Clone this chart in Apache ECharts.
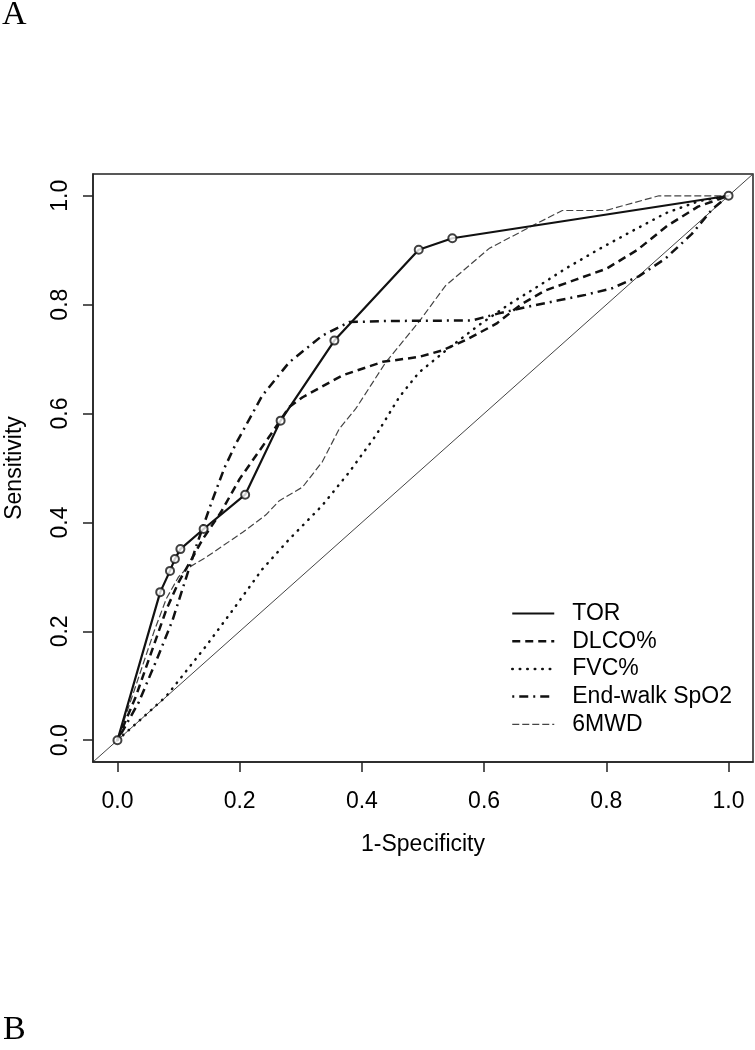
<!DOCTYPE html>
<html>
<head>
<meta charset="utf-8">
<script src="https://cdn.jsdelivr.net/npm/echarts@6/dist/echarts.min.js"></script>
<style>
html,body{margin:0;padding:0;background:#fff;}
#chart{width:755px;height:1050px;}
</style>
</head>
<body>
<div id="chart"></div>
<script>
// ---- data (x = 1-Specificity, y = Sensitivity) ----
const torX = [0, 0.070, 0.086, 0.094, 0.103, 0.141, 0.209, 0.267, 0.355, 0.493, 0.548, 1.0];
const torY = [0, 0.272, 0.311, 0.333, 0.351, 0.388, 0.451, 0.587, 0.734, 0.901, 0.922, 1.0];

const dlcoX = [0, 0.03, 0.055, 0.08, 0.10, 0.12, 0.14, 0.17, 0.20, 0.25, 0.281, 0.303, 0.368, 0.434, 0.493, 0.532, 0.57, 0.62, 0.66, 0.70, 0.75, 0.80, 0.85, 0.90, 0.95, 1.0];
const dlcoY = [0, 0.08, 0.16, 0.24, 0.29, 0.33, 0.37, 0.42, 0.48, 0.56, 0.612, 0.630, 0.670, 0.695, 0.704, 0.716, 0.735, 0.765, 0.800, 0.826, 0.846, 0.866, 0.900, 0.945, 0.980, 1.0];

const fvcX = [0, 0.04, 0.080, 0.145, 0.188, 0.237, 0.281, 0.335, 0.379, 0.423, 0.461, 0.493, 0.542, 0.591, 0.640, 0.690, 0.733, 0.788, 0.842, 0.897, 0.951, 1.0];
const fvcY = [0, 0.04, 0.081, 0.173, 0.238, 0.314, 0.369, 0.431, 0.492, 0.560, 0.630, 0.675, 0.720, 0.762, 0.800, 0.835, 0.866, 0.902, 0.935, 0.968, 0.990, 1.0];

const ewX = [0, 0.035, 0.065, 0.09, 0.11, 0.13, 0.155, 0.175, 0.194, 0.237, 0.281, 0.335, 0.379, 0.44, 0.58, 0.624, 0.679, 0.722, 0.766, 0.809, 0.853, 0.897, 0.94, 0.973, 1.0];
const ewY = [0, 0.07, 0.15, 0.22, 0.29, 0.36, 0.44, 0.50, 0.545, 0.633, 0.694, 0.743, 0.768, 0.770, 0.771, 0.784, 0.798, 0.808, 0.818, 0.830, 0.852, 0.885, 0.930, 0.975, 1.0];

const mwdX = [0, 0.03, 0.06, 0.08, 0.10, 0.112, 0.145, 0.205, 0.243, 0.265, 0.303, 0.335, 0.363, 0.39, 0.439, 0.493, 0.537, 0.608, 0.679, 0.728, 0.799, 0.886, 0.951, 1.0];
const mwdY = [0, 0.10, 0.20, 0.26, 0.30, 0.314, 0.336, 0.382, 0.414, 0.440, 0.465, 0.511, 0.572, 0.609, 0.694, 0.768, 0.835, 0.903, 0.945, 0.973, 0.973, 1.0, 1.0, 1.0];

const diagX = [-0.04, 1.04];
const diagY = [-0.04, 1.04];

const tickVals = [0, 0.2, 0.4, 0.6, 0.8, 1.0];
const tickLabels = ['0.0', '0.2', '0.4', '0.6', '0.8', '1.0'];

const seriesNames = ['TOR', 'DLCO%', 'FVC%', 'End-walk SpO2', '6MWD'];

// ---- build ----
const pairs = (xs, ys) => xs.map((x, i) => [x, ys[i]]);
const fmt = v => { const i = tickVals.findIndex(t => Math.abs(t - v) < 1e-9); return i >= 0 ? tickLabels[i] : ''; };
const FONT = '"Liberation Sans", Arial, Helvetica, sans-serif';
const INK = '#000';
const LINE = '#111';

const chart = echarts.init(document.getElementById('chart'), null, {renderer: 'canvas'});
chart.setOption({
  animation: false,
  backgroundColor: '#fff',
  color: [LINE],
  graphic: [
    {type: 'text', left: 2, top: -2, style: {text: 'A', font: '34px "Liberation Serif", "Times New Roman", serif', fill: '#000'}},
    {type: 'text', left: 3, top: 1013, style: {text: 'B', font: '34px "Liberation Serif", "Times New Roman", serif', fill: '#000'}}
  ],
  grid: {left: 93, right: 2, top: 174, bottom: 288, show: true, borderColor: '#222', borderWidth: 1.5,
    backgroundColor: 'transparent', containLabel: false, outerBoundsMode: 'none'},
  xAxis: {
    type: 'value', min: -0.04, max: 1.04,
    name: '1-Specificity', nameLocation: 'middle', nameGap: 71,
    nameTextStyle: {fontFamily: FONT, fontSize: 23, color: INK},
    splitLine: {show: false},
    axisLine: {show: true, onZero: false, lineStyle: {color: '#222', width: 1.5}},
    axisTick: {show: true, inside: false, length: 10, customValues: tickVals, lineStyle: {color: '#222', width: 1.5}},
    axisLabel: {customValues: tickVals, formatter: fmt, fontFamily: FONT, fontSize: 23, color: INK, margin: 28},
    z: 10
  },
  yAxis: {
    type: 'value', min: -0.04, max: 1.04,
    name: 'Sensitivity', nameLocation: 'middle', nameGap: 67,
    nameTextStyle: {fontFamily: FONT, fontSize: 23, color: INK},
    splitLine: {show: false},
    axisLine: {show: true, onZero: false, lineStyle: {color: '#222', width: 1.5}},
    axisTick: {show: true, inside: false, length: 10, customValues: tickVals, lineStyle: {color: '#222', width: 1.5}},
    axisLabel: {customValues: tickVals, formatter: fmt, rotate: 90, fontFamily: FONT, fontSize: 23, color: INK, margin: 21},
    z: 10
  },
  legend: {
    data: seriesNames,
    orient: 'vertical', left: 506, top: 597,
    itemWidth: 42, itemHeight: 14, itemGap: 4.7,
    itemStyle: {opacity: 0},
    lineStyle: {width: 'inherit'},
    textStyle: {fontFamily: FONT, fontSize: 23, color: INK, lineHeight: 23, padding: [0, 0, 0, 13]},
    selectedMode: false
  },
  series: [
    {type: 'line', name: 'diag', data: pairs(diagX, diagY), symbol: 'none', silent: true,
      lineStyle: {color: '#444', width: 1}, z: 1},
    {type: 'line', name: 'TOR', data: pairs(torX, torY), symbol: 'none',
      itemStyle: {color: LINE}, lineStyle: {color: LINE, width: 2.2, type: 'solid'}, z: 5},
    {type: 'scatter', name: 'TORpts', data: pairs(torX, torY), symbol: 'emptyCircle', symbolSize: 8,
      itemStyle: {color: LINE, borderColor: LINE, borderWidth: 1.5}, z: 6},
    {type: 'line', name: 'DLCO%', data: pairs(dlcoX, dlcoY), symbol: 'none',
      itemStyle: {color: LINE}, lineStyle: {color: LINE, width: 2.5, type: [8, 5]}, z: 4},
    {type: 'line', name: 'FVC%', data: pairs(fvcX, fvcY), symbol: 'none',
      itemStyle: {color: LINE}, lineStyle: {color: LINE, width: 2.5, type: [0.5, 7], cap: 'round'}, z: 4},
    {type: 'line', name: 'End-walk SpO2', data: pairs(ewX, ewY), symbol: 'none',
      itemStyle: {color: LINE}, lineStyle: {color: LINE, width: 2.5, type: [2, 5, 9, 5]}, z: 4},
    {type: 'line', name: '6MWD', data: pairs(mwdX, mwdY), symbol: 'none',
      itemStyle: {color: '#444'}, lineStyle: {color: '#444', width: 1.2, type: [7, 3]}, z: 3}
  ]
});
</script>
</body>
</html>
